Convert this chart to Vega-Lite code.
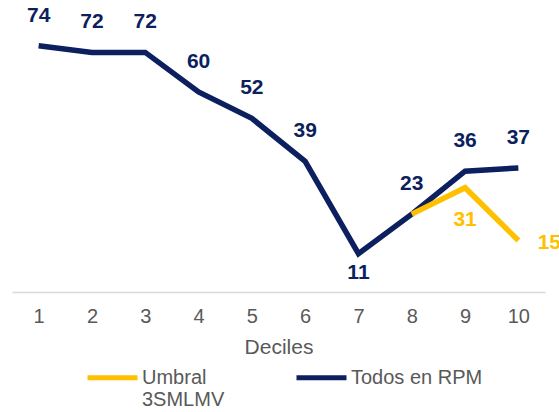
{
  "$schema": "https://vega.github.io/schema/vega-lite/v6.json",
  "width": 533,
  "height": 264,
  "autosize": "none",
  "padding": {"left": 12, "top": 26, "right": 14, "bottom": 122},
  "background": "white",
  "config": {"view": {"stroke": null}},
  "data": {"values": [
    {"decil": 1, "serie": "Todos en RPM", "valor": 74, "pos": "above"},
    {"decil": 2, "serie": "Todos en RPM", "valor": 72, "pos": "above"},
    {"decil": 3, "serie": "Todos en RPM", "valor": 72, "pos": "above"},
    {"decil": 4, "serie": "Todos en RPM", "valor": 60, "pos": "above"},
    {"decil": 5, "serie": "Todos en RPM", "valor": 52, "pos": "above"},
    {"decil": 6, "serie": "Todos en RPM", "valor": 39, "pos": "above"},
    {"decil": 7, "serie": "Todos en RPM", "valor": 11, "pos": "below"},
    {"decil": 8, "serie": "Todos en RPM", "valor": 23, "pos": "above"},
    {"decil": 9, "serie": "Todos en RPM", "valor": 36, "pos": "above"},
    {"decil": 10, "serie": "Todos en RPM", "valor": 37, "pos": "above"},
    {"decil": 8, "serie": "Umbral 3SMLMV", "valor": 23, "pos": "none"},
    {"decil": 9, "serie": "Umbral 3SMLMV", "valor": 31, "pos": "below"},
    {"decil": 10, "serie": "Umbral 3SMLMV", "valor": 15, "pos": "right"}
  ]},
  "encoding": {
    "x": {"field": "decil", "type": "ordinal", "scale": {"type": "point", "padding": 0.5},
      "axis": {"title": "Deciles", "labelAngle": 0, "ticks": false, "domainColor": "#D9D9D9", "domainWidth": 1.5, "offset": 2,
        "labelFont": "Liberation Sans", "labelFontSize": 20, "labelColor": "#595959", "labelPadding": 14,
        "titleFont": "Liberation Sans", "titleFontSize": 21, "titleColor": "#595959", "titleFontWeight": "normal", "titlePadding": 10}},
    "y": {"field": "valor", "type": "quantitative", "scale": {"domain": [0, 80]}, "axis": null}
  },
  "layer": [
    {
      "mark": {"type": "line", "strokeWidth": 5.5, "strokeCap": "butt", "strokeJoin": "miter"},
      "encoding": {
        "color": {"field": "serie", "type": "nominal",
          "scale": {"domain": ["Umbral 3SMLMV", "Todos en RPM"], "range": ["#FFC000", "#0C1F5E"]},
          "legend": {"title": null, "orient": "none", "legendX": 73, "legendY": 324, "direction": "horizontal", "columns": 2,
            "symbolType": "stroke", "symbolSize": 2500, "symbolStrokeWidth": 5, "columnPadding": 61,
            "labelFont": "Liberation Sans", "labelFontSize": 20, "labelColor": "#595959", "labelOffset": 2,
            "labelExpr": "datum.label == 'Umbral 3SMLMV' ? ['Umbral', '3SMLMV'] : [datum.label, ' ']", "labelBaseline": "middle", "labelLimit": 300}},
        "order": {"field": "serie", "sort": "descending"}
      }
    },
    {
      "transform": [{"filter": "datum.pos == 'above'"}],
      "mark": {"type": "text", "dy": -30, "fontSize": 21, "fontWeight": "bold", "font": "Liberation Sans", "color": "#0C1F5E"},
      "encoding": {"text": {"field": "valor"}}
    },
    {
      "transform": [{"filter": "datum.pos == 'below' && datum.serie == 'Todos en RPM'"}],
      "mark": {"type": "text", "dy": 19, "fontSize": 21, "fontWeight": "bold", "font": "Liberation Sans", "color": "#0C1F5E"},
      "encoding": {"text": {"field": "valor"}}
    },
    {
      "transform": [{"filter": "datum.pos == 'below' && datum.serie == 'Umbral 3SMLMV'"}],
      "mark": {"type": "text", "dy": 32, "fontSize": 21, "fontWeight": "bold", "font": "Liberation Sans", "color": "#FFC000"},
      "encoding": {"text": {"field": "valor"}}
    },
    {
      "transform": [{"filter": "datum.pos == 'right'"}],
      "mark": {"type": "text", "dx": 31, "dy": 2, "fontSize": 21, "fontWeight": "bold", "font": "Liberation Sans", "color": "#FFC000"},
      "encoding": {"text": {"field": "valor"}}
    }
  ]
}
